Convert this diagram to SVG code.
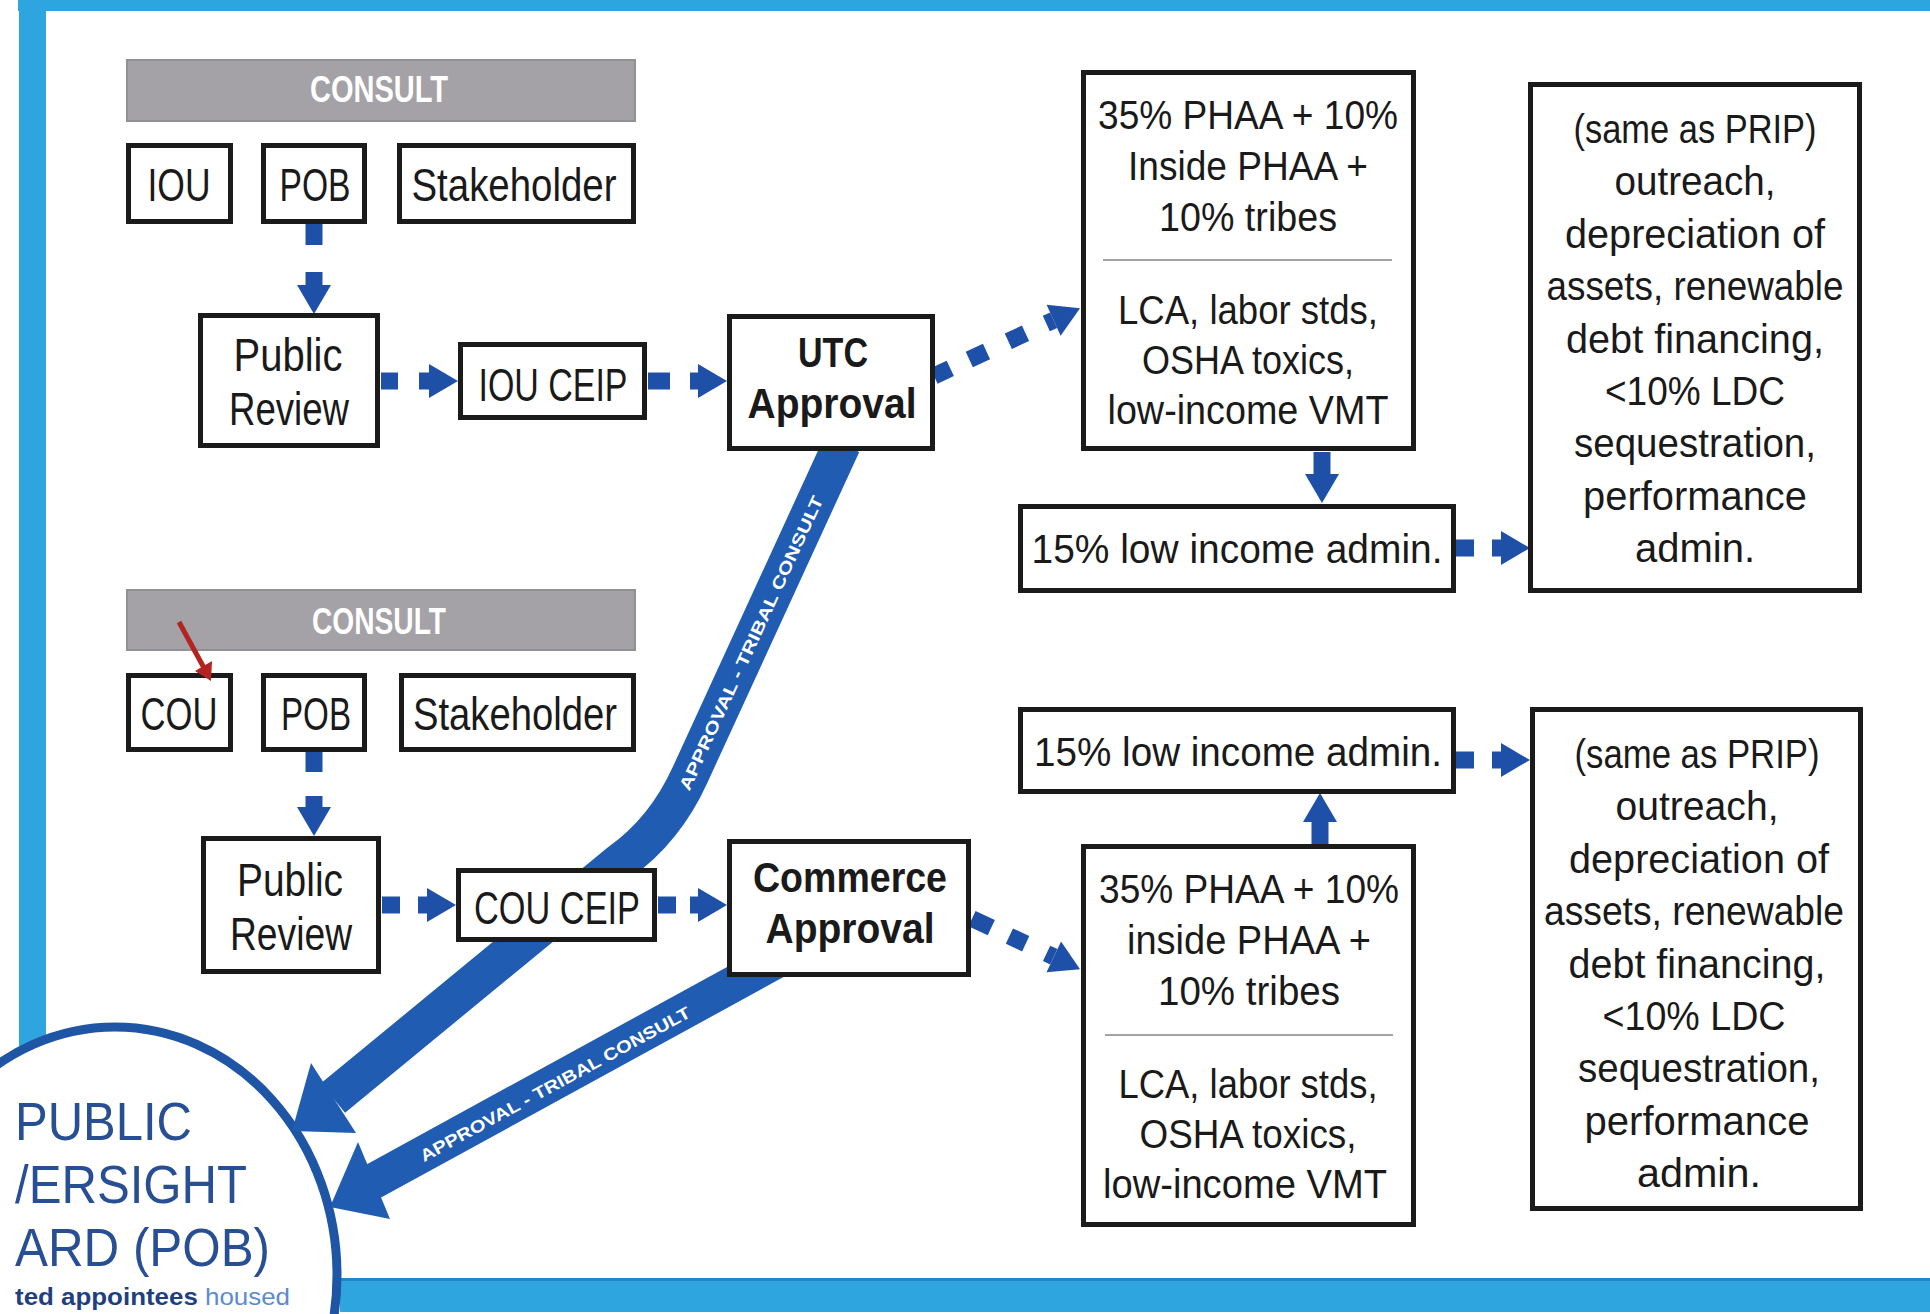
<svg xmlns="http://www.w3.org/2000/svg" width="1930" height="1314" viewBox="0 0 1930 1314">
  <style>
    .box { fill: #ffffff; stroke: #1b1b1b; stroke-width: 5; }
    .bar { fill: #a4a2a7; stroke: #929095; stroke-width: 2; }
    .t { font-family: "Liberation Sans", Arial, sans-serif; fill: #1a1a1a; text-anchor: middle; }
    .big { font-size: 46px; }
    .mid { font-size: 40px; }
    .bold { font-size: 42px; font-weight: 700; }
    .consult { font-family: "Liberation Sans", Arial, sans-serif; font-size: 37px; font-weight: 700; fill: #ffffff; text-anchor: middle; }
    .sep { stroke: #a3a3a3; stroke-width: 2; }
    .dash { fill: none; stroke: #1f50a8; stroke-width: 17; stroke-linecap: butt; }
    .ribbon { fill: none; stroke: #1f5cb2; stroke-linecap: butt; stroke-linejoin: round; }
    .rhead { fill: #1f5cb2; }
    .rtext { font-family: "Liberation Sans", Arial, sans-serif; font-size: 17px; font-weight: 700; fill: #ffffff; text-anchor: middle; }
    .pob { font-family: "Liberation Sans", Arial, sans-serif; font-size: 54px; fill: #284f94; }
    .frame { fill: #2ea5de; }
  </style>
  <defs>
    <marker id="ah" markerUnits="userSpaceOnUse" viewBox="0 0 29 34" markerWidth="29" markerHeight="34" refX="0" refY="17" orient="auto" overflow="visible">
      <path d="M0,0 L29,17 L0,34 Z" fill="#1f50a8"/>
    </marker>
  </defs>

  <rect width="1930" height="1314" fill="#ffffff"/>

  <!-- blue frame -->
  <g id="frame">
    <rect class="frame" x="18" y="0" width="1912" height="11"/>
    <rect class="frame" x="19" y="0" width="27" height="1080"/>
    <rect class="frame" x="340" y="1278" width="1590" height="34"/>
    <rect x="340" y="1278" width="1590" height="3" fill="#2185c8"/>
  </g>

  <!-- Public Oversight Board -->
  <g id="pob-board">
    <ellipse cx="115" cy="1275" rx="222" ry="248" fill="#ffffff" stroke="#1e56a5" stroke-width="9"/>
    <text class="pob" x="15" y="1140" textLength="177" lengthAdjust="spacingAndGlyphs">PUBLIC</text>
    <text class="pob" x="15" y="1203" textLength="232" lengthAdjust="spacingAndGlyphs">/ERSIGHT</text>
    <text class="pob" x="15" y="1266" textLength="255" lengthAdjust="spacingAndGlyphs">ARD (POB)</text>
    <text x="15" y="1305" font-family="Liberation Sans, Arial, sans-serif" font-size="24" textLength="275" lengthAdjust="spacingAndGlyphs"><tspan font-weight="700" fill="#213f80">ted appointees </tspan><tspan fill="#5b8bd0">housed</tspan></text>
  </g>

  <!-- approval / tribal consult ribbons -->
  <g id="ribbons">
    <path class="ribbon" stroke-width="38" d="M842,444 L690,775 Q665,830 620,862 L333,1098"/>
    <polygon class="rhead" points="311,1063 292,1131 356,1133"/>
    <path class="ribbon" stroke-width="36" d="M790,953 L372,1182"/>
    <polygon class="rhead" points="358,1142 330,1207 390,1219"/>
    <text class="rtext" transform="translate(751,643) rotate(-65.3)" y="6" textLength="322" lengthAdjust="spacingAndGlyphs">APPROVAL - TRIBAL CONSULT</text>
    <text class="rtext" transform="translate(555,1084) rotate(-28.6)" y="6" textLength="305" lengthAdjust="spacingAndGlyphs">APPROVAL - TRIBAL CONSULT</text>
  </g>

  <!-- dashed connectors -->
  <g id="connectors">
    <path class="dash" marker-end="url(#ah)" d="M314,224 V245 M314,272 V285"/>
    <path class="dash" marker-end="url(#ah)" d="M381,381 H398 M419,381 H429"/>
    <path class="dash" marker-end="url(#ah)" d="M648,381 H670 M690,381 H698"/>
    <path class="dash" marker-end="url(#ah)" d="M934,376 L950.3,368.4 M969.3,359.5 L986.5,351.5 M1008.3,341.3 L1025.5,333.3 M1046.3,323.5 L1053.6,320.2"/>
    <path class="dash" marker-end="url(#ah)" d="M1322,452 V474"/>
    <path class="dash" marker-end="url(#ah)" d="M1456,548 H1474 M1492,548 H1501"/>
    <path class="dash" marker-end="url(#ah)" d="M314,752 V772 M314,796 V807"/>
    <path class="dash" marker-end="url(#ah)" d="M382,905 H400 M418,905 H427"/>
    <path class="dash" marker-end="url(#ah)" d="M658,905 H676 M690,905 H698"/>
    <path class="dash" marker-end="url(#ah)" d="M972,918.6 L991.3,927.6 M1009.4,936.1 L1025.7,943.7 M1046.6,953.4 L1053.8,956.8"/>
    <path class="dash" marker-end="url(#ah)" d="M1320,844 V822"/>
    <path class="dash" marker-end="url(#ah)" d="M1456,760 H1474 M1492,760 H1501"/>
  </g>

  <!-- upper flow (IOU) -->
  <g id="consult-top">
    <rect class="bar" x="127" y="60" width="508" height="61"/>
    <text class="consult" x="379" y="102" textLength="138" lengthAdjust="spacingAndGlyphs">CONSULT</text>
  </g>
  <g id="iou">
    <rect class="box" x="128.5" y="145.5" width="102" height="76"/>
    <text class="t big" x="179" y="201" textLength="63" lengthAdjust="spacingAndGlyphs">IOU</text>
  </g>
  <g id="pob-top">
    <rect class="box" x="263.5" y="145.5" width="101" height="76"/>
    <text class="t big" x="315" y="201" textLength="71" lengthAdjust="spacingAndGlyphs">POB</text>
  </g>
  <g id="stakeholder-top">
    <rect class="box" x="399.5" y="145.5" width="234" height="76"/>
    <text class="t big" x="514" y="201" textLength="205" lengthAdjust="spacingAndGlyphs">Stakeholder</text>
  </g>
  <g id="review-top">
    <rect class="box" x="200.5" y="315.5" width="177" height="130"/>
    <text class="t big" x="288" y="371" textLength="109" lengthAdjust="spacingAndGlyphs">Public</text>
    <text class="t big" x="289" y="425" textLength="120" lengthAdjust="spacingAndGlyphs">Review</text>
  </g>
  <g id="iou-ceip">
    <rect class="box" x="460.5" y="344.5" width="184" height="73"/>
    <text class="t big" x="553" y="401" textLength="149" lengthAdjust="spacingAndGlyphs">IOU CEIP</text>
  </g>
  <g id="utc">
    <rect class="box" x="729.5" y="316.5" width="203" height="132"/>
    <text class="t bold" x="833" y="367" textLength="70" lengthAdjust="spacingAndGlyphs">UTC</text>
    <text class="t bold" x="832" y="418" textLength="169" lengthAdjust="spacingAndGlyphs">Approval</text>
  </g>
  <g id="phaa-top">
    <rect class="box" x="1083.5" y="72.5" width="330" height="376"/>
    <text class="t mid" x="1248" y="129" textLength="300" lengthAdjust="spacingAndGlyphs">35% PHAA + 10%</text>
    <text class="t mid" x="1248" y="180" textLength="240" lengthAdjust="spacingAndGlyphs">Inside PHAA +</text>
    <text class="t mid" x="1248" y="231" textLength="178" lengthAdjust="spacingAndGlyphs">10% tribes</text>
    <line class="sep" x1="1103" y1="260" x2="1392" y2="260"/>
    <text class="t mid" x="1248" y="324" textLength="260" lengthAdjust="spacingAndGlyphs">LCA, labor stds,</text>
    <text class="t mid" x="1248" y="374" textLength="212" lengthAdjust="spacingAndGlyphs">OSHA toxics,</text>
    <text class="t mid" x="1248" y="424" textLength="281" lengthAdjust="spacingAndGlyphs">low-income VMT</text>
  </g>
  <g id="lowinc-top">
    <rect class="box" x="1020.5" y="506.5" width="433" height="84"/>
    <text class="t mid" x="1237" y="563" textLength="411" lengthAdjust="spacingAndGlyphs">15% low income admin.</text>
  </g>
  <g id="prip-top">
    <rect class="box" x="1530.5" y="84.5" width="329" height="506"/>
    <text class="t mid" x="1695" y="143" textLength="243" lengthAdjust="spacingAndGlyphs">(same as PRIP)</text>
    <text class="t mid" x="1695" y="195" textLength="161" lengthAdjust="spacingAndGlyphs">outreach,</text>
    <text class="t mid" x="1695" y="248" textLength="260" lengthAdjust="spacingAndGlyphs">depreciation of</text>
    <text class="t mid" x="1695" y="300" textLength="297" lengthAdjust="spacingAndGlyphs">assets, renewable</text>
    <text class="t mid" x="1695" y="353" textLength="258" lengthAdjust="spacingAndGlyphs">debt financing,</text>
    <text class="t mid" x="1695" y="405" textLength="180" lengthAdjust="spacingAndGlyphs">&lt;10% LDC</text>
    <text class="t mid" x="1695" y="457" textLength="242" lengthAdjust="spacingAndGlyphs">sequestration,</text>
    <text class="t mid" x="1695" y="510" textLength="224" lengthAdjust="spacingAndGlyphs">performance</text>
    <text class="t mid" x="1695" y="562" textLength="120" lengthAdjust="spacingAndGlyphs">admin.</text>
  </g>

  <!-- lower flow (COU) -->
  <g id="consult-bottom">
    <rect class="bar" x="127" y="590" width="508" height="60"/>
    <text class="consult" x="379" y="634" textLength="134" lengthAdjust="spacingAndGlyphs">CONSULT</text>
  </g>
  <g id="cou">
    <rect class="box" x="128.5" y="675.5" width="102" height="74"/>
    <text class="t big" x="179" y="730" textLength="77" lengthAdjust="spacingAndGlyphs">COU</text>
  </g>
  <g id="pob-bottom">
    <rect class="box" x="263.5" y="675.5" width="101" height="74"/>
    <text class="t big" x="316" y="730" textLength="70" lengthAdjust="spacingAndGlyphs">POB</text>
  </g>
  <g id="stakeholder-bottom">
    <rect class="box" x="401.5" y="675.5" width="232" height="74"/>
    <text class="t big" x="515" y="730" textLength="204" lengthAdjust="spacingAndGlyphs">Stakeholder</text>
  </g>
  <g id="review-bottom">
    <rect class="box" x="203.5" y="838.5" width="175" height="133"/>
    <text class="t big" x="290" y="896" textLength="106" lengthAdjust="spacingAndGlyphs">Public</text>
    <text class="t big" x="291" y="950" textLength="122" lengthAdjust="spacingAndGlyphs">Review</text>
  </g>
  <g id="cou-ceip">
    <rect class="box" x="458.5" y="870.5" width="196" height="69"/>
    <text class="t big" x="557" y="924" textLength="166" lengthAdjust="spacingAndGlyphs">COU CEIP</text>
  </g>
  <g id="commerce">
    <rect class="box" x="729.5" y="841.5" width="239" height="133"/>
    <text class="t bold" x="850" y="892" textLength="194" lengthAdjust="spacingAndGlyphs">Commerce</text>
    <text class="t bold" x="850" y="943" textLength="169" lengthAdjust="spacingAndGlyphs">Approval</text>
  </g>
  <g id="lowinc-bottom">
    <rect class="box" x="1020.5" y="709.5" width="433" height="82"/>
    <text class="t mid" x="1238" y="766" textLength="408" lengthAdjust="spacingAndGlyphs">15% low income admin.</text>
  </g>
  <g id="phaa-bottom">
    <rect class="box" x="1083.5" y="846.5" width="330" height="378"/>
    <text class="t mid" x="1249" y="903" textLength="300" lengthAdjust="spacingAndGlyphs">35% PHAA + 10%</text>
    <text class="t mid" x="1249" y="954" textLength="244" lengthAdjust="spacingAndGlyphs">inside PHAA +</text>
    <text class="t mid" x="1249" y="1005" textLength="182" lengthAdjust="spacingAndGlyphs">10% tribes</text>
    <line class="sep" x1="1105" y1="1035" x2="1393" y2="1035"/>
    <text class="t mid" x="1248" y="1098" textLength="259" lengthAdjust="spacingAndGlyphs">LCA, labor stds,</text>
    <text class="t mid" x="1248" y="1148" textLength="217" lengthAdjust="spacingAndGlyphs">OSHA toxics,</text>
    <text class="t mid" x="1245" y="1198" textLength="284" lengthAdjust="spacingAndGlyphs">low-income VMT</text>
  </g>
  <g id="prip-bottom">
    <rect class="box" x="1532.5" y="709.5" width="328" height="499"/>
    <text class="t mid" x="1697" y="768" textLength="245" lengthAdjust="spacingAndGlyphs">(same as PRIP)</text>
    <text class="t mid" x="1697" y="820" textLength="163" lengthAdjust="spacingAndGlyphs">outreach,</text>
    <text class="t mid" x="1699" y="873" textLength="260" lengthAdjust="spacingAndGlyphs">depreciation of</text>
    <text class="t mid" x="1694" y="925" textLength="300" lengthAdjust="spacingAndGlyphs">assets, renewable</text>
    <text class="t mid" x="1697" y="978" textLength="257" lengthAdjust="spacingAndGlyphs">debt financing,</text>
    <text class="t mid" x="1694" y="1030" textLength="183" lengthAdjust="spacingAndGlyphs">&lt;10% LDC</text>
    <text class="t mid" x="1699" y="1082" textLength="242" lengthAdjust="spacingAndGlyphs">sequestration,</text>
    <text class="t mid" x="1697" y="1135" textLength="225" lengthAdjust="spacingAndGlyphs">performance</text>
    <text class="t mid" x="1699" y="1187" textLength="124" lengthAdjust="spacingAndGlyphs">admin.</text>
  </g>

  <!-- red pointer onto COU -->
  <g id="pointer">
    <line x1="179" y1="622" x2="203.5" y2="667" stroke="#b3231f" stroke-width="5"/>
    <polygon points="211,681 212,661 195,671" fill="#b3231f"/>
  </g>
</svg>
